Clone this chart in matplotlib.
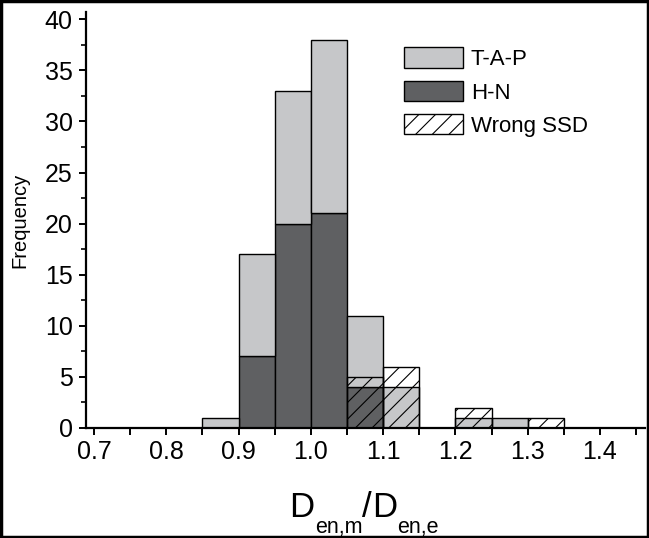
import matplotlib.pyplot as plt
import matplotlib.patches as mpatches
import matplotlib.transforms as mtransforms
from matplotlib.ticker import MultipleLocator
import numpy as np

plt.rcParams['font.family'] = ['Liberation Sans', 'DejaVu Sans']
plt.rcParams['hatch.linewidth'] = 0.8

bin_left = [0.70, 0.75, 0.80, 0.85, 0.90, 0.95, 1.00, 1.05, 1.10, 1.15, 1.20, 1.25, 1.30, 1.35]
hn = [0, 0, 0, 0, 7, 20, 21, 4, 0, 0, 0, 0, 0, 0]
tap = [0, 0, 0, 1, 10, 13, 17, 7, 4, 0, 1, 1, 0, 0]
wrong_ssd = [0, 0, 0, 0, 0, 0, 0, 5, 6, 0, 2, 0, 1, 0]
xtick_labels = ['0.7', '0.8', '0.9', '1.0', '1.1', '1.2', '1.3', '1.4']
width = 0.05

light = '#c6c7c9'
dark = '#5f6062'

fig = plt.figure(figsize=(6.49, 5.38), dpi=100)
ax = fig.add_axes([0.1325, 0.2045, 0.861, 0.773])

x = np.array(bin_left)
hn = np.array(hn)
tap = np.array(tap)
ws = np.array(wrong_ssd)

m = hn > 0
ax.bar(x[m], hn[m], width=width, align='edge', color=dark, edgecolor='black', lw=1, zorder=2)
m = tap > 0
ax.bar(x[m], tap[m], width=width, bottom=hn[m], align='edge', color=light, edgecolor='black', lw=1, zorder=2)
m = ws > 0
ax.bar(x[m], ws[m], width=width, align='edge', fill=False, hatch='//', edgecolor='black', lw=1, zorder=3)

ax.set_xlim(0.689, 1.462)
ax.set_ylim(0, 40.7)
ax.set_xticks(np.arange(0.7, 1.41, 0.1))
ax.set_xticklabels(xtick_labels)
ax.xaxis.set_minor_locator(MultipleLocator(0.05))
ax.yaxis.set_major_locator(MultipleLocator(5))
ax.yaxis.set_minor_locator(MultipleLocator(2.5))

for s in ['top', 'right']:
    ax.spines[s].set_visible(False)
for s in ['left', 'bottom']:
    ax.spines[s].set_linewidth(1.6)
ax.tick_params(which='major', direction='out', length=5, width=1.4, labelsize=18)
ax.tick_params(axis='x', which='major', pad=3.5)
ax.tick_params(axis='y', which='major', pad=4.5)
ax.tick_params(axis='x', which='minor', direction='out', length=5, width=1.4)
ax.tick_params(axis='y', which='minor', direction='out', length=3.5, width=1.2)

ax.set_ylabel('Frequency', fontsize=14.5, labelpad=11)

# x label: D_en,m / D_en,e built from pieces so the subscripts sit low like the original
pieces = [('D', 25, 0), ('en,m', 15.5, -16), ('/', 25, 0), ('D', 25, 0), ('en,e', 15.5, -16)]
renderer = fig.canvas.get_renderer()
ident = mtransforms.IdentityTransform()
base_y = 538 - 517
texts = []
for s, fs, dy in pieces:
    t = fig.text(0, base_y + dy, s, fontsize=fs, va='baseline', ha='left', transform=ident)
    texts.append(t)
widths = [t.get_window_extent(renderer).width for t in texts]
cur = 364 - sum(widths) / 2
for t, w in zip(texts, widths):
    t.set_x(cur)
    cur += w

handles = [mpatches.Patch(facecolor=light, edgecolor='black', label='T-A-P'),
           mpatches.Patch(facecolor=dark, edgecolor='black', label='H-N'),
           mpatches.Patch(facecolor='white', edgecolor='black', hatch='//', label='Wrong SSD')]
ax.legend(handles=handles, loc='upper left', bbox_to_anchor=(0.569, 0.915), frameon=False,
          borderpad=0, borderaxespad=0,
          fontsize=16, handlelength=2.65, handleheight=1.04, handletextpad=0.36, labelspacing=0.47)

fig.patches.append(mpatches.Rectangle((0.002, 0.002), 0.996, 0.996, transform=fig.transFigure,
                                      fill=False, edgecolor='black', lw=2.5))

fig.savefig('out.png', dpi=100)
